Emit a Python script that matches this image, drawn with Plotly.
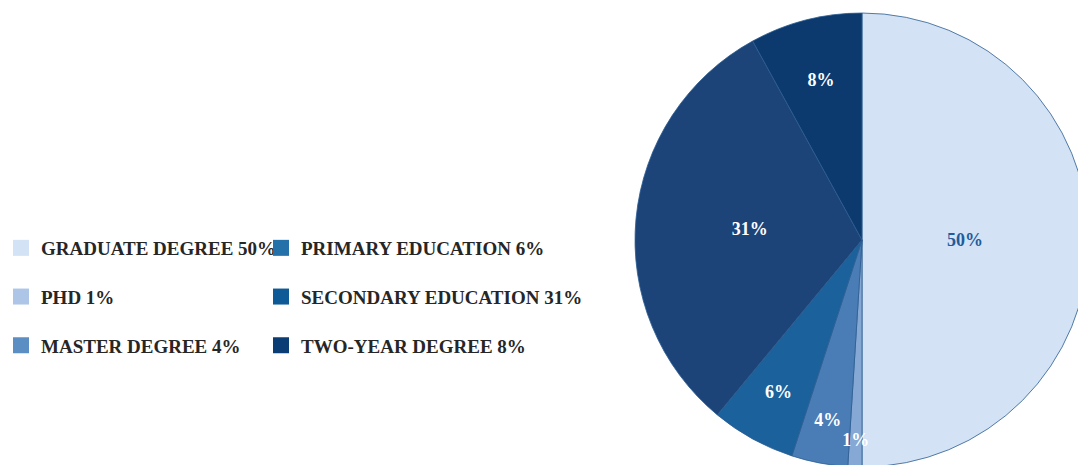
import plotly.graph_objects as go

# ---- data ----
categories = ["GRADUATE DEGREE", "PHD", "MASTER DEGREE",
              "PRIMARY EDUCATION", "SECONDARY EDUCATION", "TWO-YEAR DEGREE"]
shares = [50, 1, 4, 6, 31, 8]

# ---- style ----
slice_colors = ["#d3e2f4", "#86a8d4", "#4a7db5", "#1b619b", "#1c4478", "#0c3a6e"]
legend_colors = ["#d3e2f4", "#adc6e8", "#5b8fc4", "#2471aa", "#0e5a96", "#0a3d73"]
label_colors = ["#1e5c9c", "#ffffff", "#ffffff", "#ffffff", "#ffffff", "#ffffff"]
FONT = "Liberation Serif"

W, H = 1096, 470          # figure larger than the window: pie is cropped at right/bottom
cx, cy, r = 862, 240, 227  # pie centre / radius in pixels
r_text = 206               # radius of the (transparent) label pie


def dom(rad):
    return dict(x=[(cx - rad) / W, (cx + rad) / W],
                y=[(H - cy - rad) / H, (H - cy + rad) / H])


fig = go.Figure()

# coloured slices
fig.add_trace(go.Pie(
    labels=categories,
    values=shares,
    sort=False,
    direction="clockwise",
    rotation=0,
    textinfo="none",
    marker=dict(colors=slice_colors, line=dict(color="#2c5d92", width=0.8)),
    showlegend=False,
    hoverinfo="label+percent",
    domain=dom(r),
))

# percentage labels (same slices, transparent, slightly smaller radius)
fig.add_trace(go.Pie(
    labels=categories,
    values=shares,
    sort=False,
    direction="clockwise",
    rotation=0,
    texttemplate="%{value}%",
    textinfo="text",
    textposition="inside",
    insidetextorientation="horizontal",
    textfont=dict(family=FONT, size=18, color=label_colors, weight="bold"),
    marker=dict(colors=["rgba(0,0,0,0)"] * len(shares), line=dict(width=0)),
    showlegend=False,
    hoverinfo="skip",
    domain=dom(r_text),
))

for i, (cat, val) in enumerate(zip(categories, shares)):
    fig.add_trace(go.Scatter(
        x=[None], y=[None], mode="markers",
        marker=dict(symbol="square", size=16, color=legend_colors[i]),
        name=f"{cat} {val}%",
        legend="legend" if i < 3 else "legend2",
        legendgroup=f"g{i}",
    ))

legend_common = dict(
    orientation="v",
    yanchor="top",
    xanchor="left",
    tracegroupgap=21,
    traceorder="grouped",
    font=dict(family=FONT, size=19, color="#262626", weight="bold"),
    bgcolor="rgba(0,0,0,0)",
    itemclick=False,
)

fig.update_layout(
    width=W, height=H,
    margin=dict(l=0, r=0, t=0, b=0),
    paper_bgcolor="white",
    plot_bgcolor="white",
    xaxis=dict(visible=False),
    yaxis=dict(visible=False),
    uniformtext=dict(minsize=18, mode="show"),
    legend=dict(x=1 / W, y=1 - 229 / H, **legend_common),
    legend2=dict(x=261 / W, y=1 - 229 / H, **legend_common),
)

fig.write_html(
    "out.html",
    post_script="document.documentElement.style.overflow='hidden';"
                "document.body.style.overflow='hidden';document.body.style.margin='0';",
)
